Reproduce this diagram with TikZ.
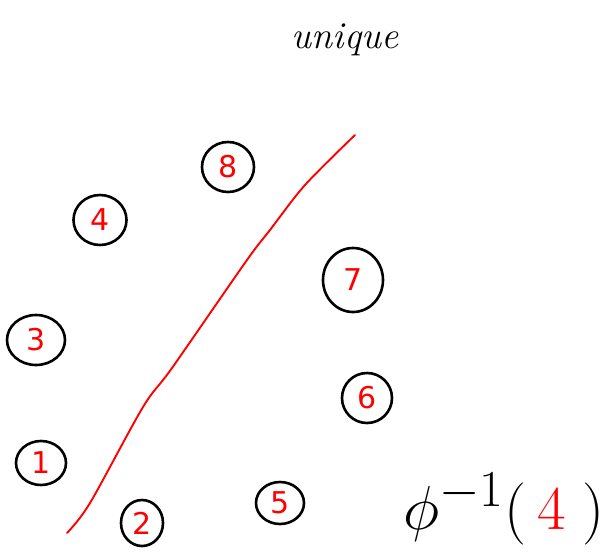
\documentclass[tikz,border=0pt]{standalone}
\usepackage{fontspec}
\setsansfont{DejaVu Sans}
\usetikzlibrary{shapes.geometric}
\begin{document}
\begin{tikzpicture}[x=1pt,y=-1pt,
  ring/.style={ellipse,draw=black,line width=2.6pt,inner sep=0pt,text=red,font=\sffamily\fontsize{30}{30}\selectfont},
  cut/.style={draw=red,line width=1.9pt,line cap=round,line join=round}]
\useasboundingbox (0,0) rectangle (605,552);
\node[ring,minimum width=52pt,minimum height=50pt] (n8) at (228,167) {8};
\node[ring,minimum width=53pt,minimum height=50pt] (n4) at (100,220) {4};
\node[ring,minimum width=60pt,minimum height=64pt] (n7) at (353,280) {7};
\node[ring,minimum width=58pt,minimum height=50pt] (n3) at (36,340) {3};
\node[ring,minimum width=50pt,minimum height=50pt] (n6) at (367,398) {6};
\node[ring,minimum width=50pt,minimum height=44pt] (n1) at (41,463) {1};
\node[ring,minimum width=42pt,minimum height=46pt] (n2) at (142,523) {2};
\node[ring,minimum width=48pt,minimum height=42pt] (n5) at (280,503) {5};
\coordinate (a) at (67,533);
\coordinate (b) at (355,135);
\draw[cut] plot[smooth,tension=0.5] coordinates {(a) (90,503) (143,407) (172,368) (247,260) (270,230) (305,185) (b)};
\node[font=\itshape\fontsize{38}{38}\selectfont] (title) at (345,40) {unique};
\node[anchor=west,inner sep=0pt] (phi) at (403,509) {\scalebox{2.5}{\Huge$\phi^{-1}(\,\textcolor{red}{4}\;)$}};
\end{tikzpicture}
\end{document}
